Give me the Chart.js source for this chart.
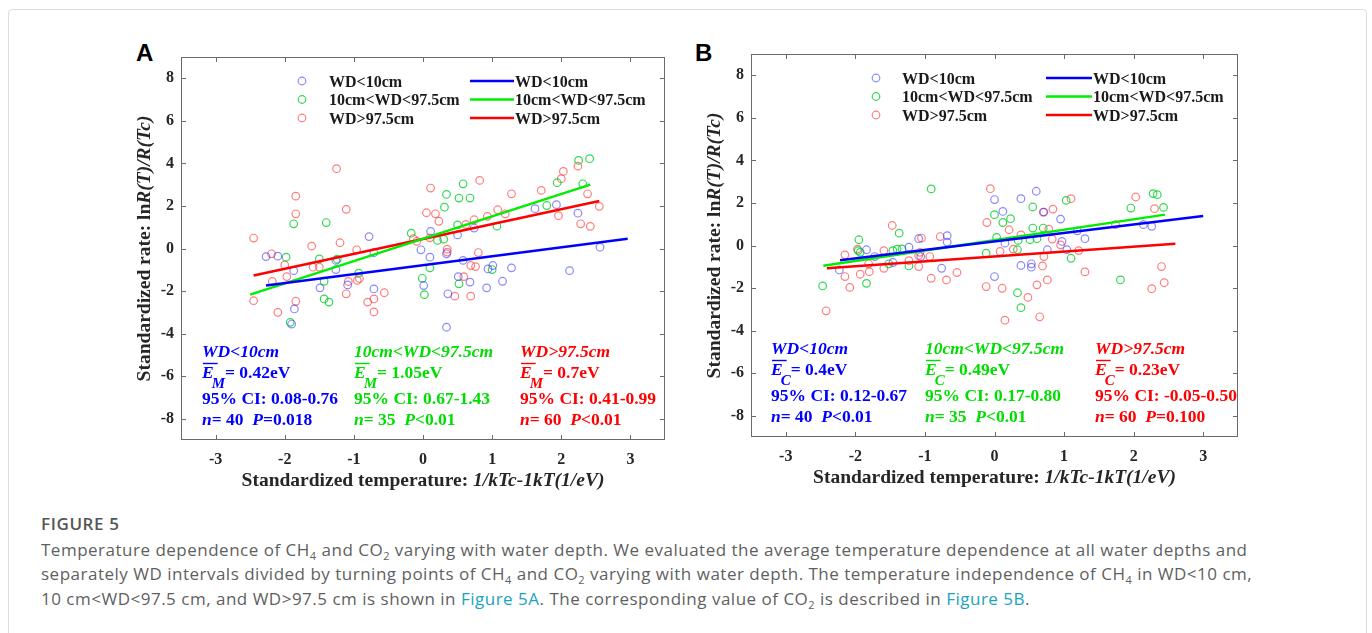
<!DOCTYPE html>
<html>
<head>
<meta charset="utf-8">
<script src="https://cdn.jsdelivr.net/npm/chart.js@4.4.0/dist/chart.umd.min.js"></script>
<style>
  body { margin: 0; background: #fff; width: 1372px; height: 633px; overflow: hidden; position: relative; font-family: "Open Sans", sans-serif; }
  .frame { position: absolute; left: 8px; top: 9px; width: 1357px; height: 700px; border: 1px solid #dcdcdc; border-radius: 4px; }
  .panel { position: absolute; }
  .tag { position: absolute; font: bold 24px "Liberation Sans", Arial, sans-serif; color: #000; }
  .caption { position: absolute; left: 41px; top: 512px; color: #5f5f5f; font-size: 17px; letter-spacing: 0.5px; line-height: 24.5px; white-space: nowrap; }
  .caption .fig { font-size: 17px; font-weight: 600; letter-spacing: 0.6px; color: #555; margin-bottom: 1px; }
  .caption a { color: #1aa3bd; text-decoration: none; }
  .caption sub { font-size: 11px; line-height: 0; }
</style>
</head>
<body>
<div class="frame"></div>
<div class="tag" style="left:136px; top:39px;">A</div>
<div class="tag" style="left:695px; top:39px;">B</div>
<div class="panel" style="left:128px; top:40px;"><canvas id="chartA" width="545" height="460"></canvas></div>
<div class="panel" style="left:698px; top:37px;"><canvas id="chartB" width="550" height="460"></canvas></div>
<div class="caption">
  <div class="fig">FIGURE 5</div>
  Temperature dependence of CH<sub>4</sub> and CO<sub>2</sub> varying with water depth. We evaluated the average temperature dependence at all water depths and<br>
  separately WD intervals divided by turning points of CH<sub>4</sub> and CO<sub>2</sub> varying with water depth. The temperature independence of CH<sub>4</sub> in WD&lt;10 cm,<br>
  10 cm&lt;WD&lt;97.5 cm, and WD&gt;97.5 cm is shown in <a>Figure 5A</a>. The corresponding value of CO<sub>2</sub> is described in <a>Figure 5B</a>.
</div>
<script>
const xTicks = [-3, -2, -1, 0, 1, 2, 3];
const yTicks = [-8, -6, -4, -2, 0, 2, 4, 6, 8];
const groups = ['WD<10cm', '10cm<WD<97.5cm', 'WD>97.5cm'];

// A - CH4
const aBlue = [[-2.27,-0.38],[-2.10,-0.36],[-1.87,-1.04],[-1.86,-2.84],[-1.90,-3.55],[-0.78,0.56],[-0.71,-0.20],
  [-1.26,-0.56],[-1.26,-0.99],[-1.49,-1.85],[-1.09,-1.71],[-0.71,-1.90],[-0.03,-0.06],[0.11,0.80],[0.10,-0.41],
  [0.01,-1.74],[0.50,0.64],[0.74,0.96],[1.62,1.87],[1.93,2.06],[2.24,1.66],[2.56,0.06],[0.34,-0.25],[0.58,-0.56],
  [0.94,-0.96],[1.01,-0.80],[1.28,-0.91],[2.12,-1.04],[0.51,-1.32],[0.68,-1.58],[1.15,-1.54],[0.92,-1.85],
  [0.36,-2.13],[0.34,-3.70]];
const aGreen = [[-1.87,1.16],[-1.40,1.22],[-1.98,-0.41],[-1.50,-0.49],[-1.43,-1.54],[-1.43,-2.37],[-1.36,-2.52],
  [-0.93,-1.16],[-1.92,-3.47],[-0.17,0.72],[-0.01,-1.40],[0.02,-2.17],[0.10,-0.91],[2.25,4.14],[2.41,4.22],
  [1.94,3.09],[2.31,3.04],[0.58,3.04],[0.34,2.54],[0.52,2.37],[0.68,2.37],[0.31,1.94],[1.79,2.02],[0.50,1.11],
  [1.07,1.05],[0.21,0.38],[0.30,0.44],[1.00,-0.99],[0.52,-1.66],[-1.24,-0.50]];
const aRed = [[-1.25,3.75],[-1.84,2.46],[-1.84,1.63],[-1.11,1.84],[-2.45,0.49],[-1.61,0.11],[-1.20,0.27],
  [-0.96,-0.06],[-2.19,-0.25],[-2.00,-0.77],[-1.97,-1.32],[-1.59,-0.88],[-1.50,-0.88],[-2.18,-1.55],[-2.45,-2.45],
  [-1.84,-2.48],[-2.10,-3.00],[-1.08,-1.55],[-0.95,-1.50],[-0.92,-1.41],[-1.11,-2.13],[-0.80,-2.52],[-0.71,-2.37],
  [-0.56,-2.08],[-0.71,-2.98],[0.05,1.68],[0.11,2.84],[-0.14,0.46],[-0.09,0.34],[0.18,1.63],[0.23,1.28],
  [0.82,3.20],[1.28,2.57],[1.71,2.73],[2.03,3.62],[2.00,3.28],[2.24,3.87],[2.38,2.57],[2.55,1.98],[1.96,1.54],
  [2.28,1.16],[2.42,1.04],[1.08,1.82],[1.19,1.63],[0.93,1.51],[0.74,1.35],[0.62,1.13],[0.10,0.50],[0.35,-0.03],
  [0.35,-0.17],[0.80,-0.19],[0.69,-0.80],[0.76,-0.85],[0.59,-1.32],[0.46,-2.24],[0.69,-2.24]];
const aSlope = [0.42, 1.05, 0.70];
const aIntercept = [-0.79, 0.46, 0.445];
const aFitFrom = [-2.27, -2.50, -2.45];
const aFitTo = [2.96, 2.42, 2.55];
const aE = ['0.42eV', '1.05eV', '0.7eV'];
const aCI = ['0.08-0.76', '0.67-1.43', '0.41-0.99'];
const aN = ['40', '35', '60'];
const aP = ['=0.018', '<0.01', '<0.01'];

// B - CO2
const bBlue = [[-1.84,-0.20],[-1.72,-0.52],[-2.23,-1.15],[-1.23,-0.08],[-1.09,0.32],[-0.68,0.46],[-0.68,0.16],
  [-1.06,-0.52],[-1.46,-0.80],[-0.76,-1.07],[0.00,2.16],[0.00,-1.46],[0.60,2.55],[0.38,2.20],[0.12,1.60],
  [0.71,1.57],[0.95,1.24],[0.15,0.11],[1.19,0.69],[1.30,0.32],[0.76,-0.20],[0.97,0.19],[1.04,-0.20],
  [0.38,-0.94],[0.53,-0.86],[0.53,-1.02],[2.14,0.98],[2.26,0.90]];
const bGreen = [[-0.91,2.66],[-1.95,0.27],[-1.37,0.58],[-2.47,-1.90],[-1.84,-1.78],[-1.96,-0.24],[-1.52,-0.86],
  [-1.46,-0.24],[-1.40,-0.17],[-1.33,-0.16],[-1.23,-0.96],[0.00,1.45],[-0.12,-0.36],[0.03,0.38],[0.55,1.81],
  [1.03,2.12],[0.12,1.08],[0.23,1.26],[0.55,0.82],[0.70,0.82],[0.34,0.24],[0.51,0.27],[0.61,0.32],[0.33,-0.20],
  [1.10,-0.60],[1.96,1.76],[2.28,2.44],[2.34,2.39],[2.43,1.79],[1.81,-1.62],[0.33,-2.22],[0.38,-2.92],[-1.93,-0.32]];
const bRed = [[-1.47,0.94],[-2.15,-0.44],[-1.97,-0.17],[-1.81,-0.86],[-1.80,-1.23],[-1.93,-1.35],[-2.15,-1.46],
  [-2.08,-1.97],[-2.42,-3.07],[-1.59,-0.24],[-1.59,-1.07],[-1.23,-0.71],[-1.09,-0.47],[-1.09,-0.99],[-1.05,0.35],
  [-0.93,-0.52],[-0.78,0.42],[-0.91,-1.54],[-0.69,-1.62],[-0.54,-1.27],[-0.06,2.67],[-0.11,1.08],[-0.12,-1.93],
  [1.10,2.20],[0.84,1.71],[0.70,1.57],[0.21,0.74],[0.38,0.50],[0.78,0.77],[0.83,0.30],[0.95,0.03],[1.21,-0.24],
  [0.08,-0.28],[0.27,-0.17],[0.71,-0.52],[0.69,-0.96],[1.30,-1.24],[0.76,-1.62],[0.61,-1.85],[0.11,-2.01],
  [0.48,-2.44],[0.15,-3.51],[0.65,-3.35],[1.74,0.98],[2.03,2.28],[2.30,1.73],[2.40,-0.99],[2.44,-1.75],
  [2.26,-2.03],[-1.07,-0.32]];
const bSlope = [0.40, 0.49, 0.23];
const bIntercept = [0.19, 0.25, -0.52];
const bFitFrom = [-2.22, -2.46, -2.41];
const bFitTo = [3.00, 2.45, 2.60];
const bE = ['0.4eV', '0.49eV', '0.23eV'];
const bCI = ['0.12-0.67', '0.17-0.80', '-0.05-0.50'];
const bN = ['40', '35', '60'];
const bP = ['<0.01', '<0.01', '=0.100'];

const lineColors = ['#0000ff', '#00ee00', '#ff0000'];
const textColors = ['#0000ff', '#00dd00', '#ff0000'];
const pointColors = ['rgba(40,40,255,0.55)', 'rgba(0,205,40,0.8)', 'rgba(255,40,40,0.6)'];
const SERIF = '"Liberation Serif", "Times New Roman", serif';

// escreve pedaços de texto com fontes diferentes na mesma linha
function runs(ctx, x, y, parts) {
  for (const [t, f, dy] of parts) {
    ctx.font = f;
    ctx.fillText(t, x, y + (dy || 0));
    x += ctx.measureText(t).width;
  }
  return x;
}
function widthOf(ctx, parts) {
  let w = 0;
  for (const [t, f] of parts) { ctx.font = f; w += ctx.measureText(t).width; }
  return w;
}

const figurePlugin = {
  id: 'figure',
  afterDraw(chart, args, opts) {
    const ctx = chart.ctx;
    const a = chart.chartArea;
    const sx = chart.scales.x, sy = chart.scales.y;
    ctx.save();
    // moldura e ticks para dentro
    ctx.strokeStyle = '#6a6a6a';
    ctx.lineWidth = 1;
    ctx.strokeRect(a.left + 0.5, a.top + 0.5, a.right - a.left - 1, a.bottom - a.top - 1);
    ctx.beginPath();
    xTicks.forEach(v => {
      const px = Math.round(sx.getPixelForValue(v)) + 0.5;
      ctx.moveTo(px, a.bottom); ctx.lineTo(px, a.bottom - 5);
      ctx.moveTo(px, a.top); ctx.lineTo(px, a.top + 5);
    });
    yTicks.forEach(v => {
      const py = Math.round(sy.getPixelForValue(v)) + 0.5;
      ctx.moveTo(a.left, py); ctx.lineTo(a.left + 5, py);
      ctx.moveTo(a.right, py); ctx.lineTo(a.right - 5, py);
    });
    ctx.stroke();

    // títulos dos eixos
    const tB = 'bold 19.5px ' + SERIF, tBI = 'italic bold 19.5px ' + SERIF;
    ctx.fillStyle = '#262626';
    ctx.textBaseline = 'middle';
    const xt = [['Standardized temperature: ', tB], ['1/kTc-1kT(1/eV)', tBI]];
    runs(ctx, (a.left + a.right) / 2 - widthOf(ctx, xt) / 2, a.bottom + 41, xt);
    const yt = [['Standardized rate: ln', tB], ['R(T)/R(Tc)', tBI]];
    ctx.translate(a.left - 36, (a.top + a.bottom) / 2);
    ctx.rotate(-Math.PI / 2);
    runs(ctx, -widthOf(ctx, yt) / 2, 0, yt);
    ctx.setTransform(1, 0, 0, 1, 0, 0);

    // legenda dentro do gráfico
    const lg = opts.legend;
    const lf = 'bold 16px ' + SERIF;
    ctx.font = lf;
    ctx.textBaseline = 'alphabetic';
    groups.forEach((g, i) => {
      const cy = a.top + 24 + i * 18.5;
      ctx.strokeStyle = pointColors[i];
      ctx.lineWidth = 1.2;
      ctx.beginPath(); ctx.arc(a.left + lg[0], cy, 3.8, 0, Math.PI * 2); ctx.stroke();
      ctx.fillStyle = '#1a1a1a';
      ctx.fillText(g, a.left + lg[1], cy + 5.5);
      ctx.strokeStyle = lineColors[i];
      ctx.lineWidth = 2.5;
      ctx.beginPath(); ctx.moveTo(a.left + lg[2], cy); ctx.lineTo(a.left + lg[3], cy); ctx.stroke();
      ctx.fillText(g, a.left + lg[3] + 1, cy + 5.5);
    });

    // estatísticas de cada grupo
    const sB = 'bold 17.5px ' + SERIF, sBI = 'italic bold 17.5px ' + SERIF, sSub = 'italic bold 15px ' + SERIF;
    groups.forEach((g, i) => {
      const x = a.left + opts.cols[i];
      ctx.fillStyle = textColors[i];
      ctx.strokeStyle = textColors[i];
      runs(ctx, x, a.top + 300, [[g, sBI]]);
      const y2 = a.top + 321;
      ctx.font = sBI;
      const ew = ctx.measureText('E').width;
      ctx.fillText('E', x, y2);
      ctx.lineWidth = 1.4;
      ctx.beginPath(); ctx.moveTo(x + 1, y2 - 14.5); ctx.lineTo(x + ew + 4, y2 - 14.5); ctx.stroke();
      ctx.font = sSub;
      ctx.fillText(opts.sub, x + ew - 2, y2 + 10);
      const xe = x + ew - 2 + ctx.measureText(opts.sub).width;
      runs(ctx, xe, y2, [['= ' + opts.e[i], sB]]);
      runs(ctx, x, a.top + 347, [['95% CI: ' + opts.ci[i], sB]]);
      runs(ctx, x, a.top + 368, [['n', sBI], ['= ' + opts.n[i] + '  ', sB], ['P', sBI], [opts.p[i], sB]]);
    });
    ctx.restore();
  }
};

function makeChart(id, pts, slope, icpt, from, to, deco, padRight) {
  const datasets = [];
  for (let i = 0; i < 3; i++) {
    datasets.push({
      type: 'line',
      data: [from[i], to[i]].map(x => ({ x: x, y: icpt[i] + slope[i] * x })),
      borderColor: lineColors[i],
      borderWidth: 2.5,
      pointRadius: 0,
      order: 0
    });
  }
  for (let i = 0; i < 3; i++) {
    datasets.push({
      type: 'scatter',
      data: pts[i].map(p => ({ x: p[0], y: p[1] })),
      pointStyle: 'circle',
      pointRadius: 3.8,
      pointBorderWidth: 1.2,
      borderColor: pointColors[i],
      backgroundColor: 'rgba(0,0,0,0)',
      order: 1
    });
  }
  const tickFont = { family: SERIF, size: 16, weight: 'bold' };
  return new Chart(document.getElementById(id).getContext('2d'), {
    data: { datasets: datasets },
    options: {
      responsive: false,
      animation: false,
      layout: { padding: { top: 17, right: padRight, left: 0, bottom: 0 } },
      scales: {
        x: {
          type: 'linear', min: -3.5, max: 3.5,
          afterBuildTicks: s => { s.ticks = xTicks.map(v => ({ value: v })); },
          afterFit: s => { s.height = 60; },
          grid: { display: false, drawTicks: false },
          border: { display: false },
          ticks: { color: '#262626', font: tickFont, padding: 10, callback: v => String(v) }
        },
        y: {
          type: 'linear', min: -9, max: 9,
          afterBuildTicks: s => { s.ticks = yTicks.map(v => ({ value: v })); },
          afterFit: s => { s.width = 53; },
          grid: { display: false, drawTicks: false },
          border: { display: false },
          ticks: { color: '#262626', font: tickFont, padding: 7, callback: v => String(v) }
        }
      },
      plugins: {
        legend: { display: false },
        tooltip: { enabled: false },
        figure: deco
      }
    },
    plugins: [figurePlugin]
  });
}

makeChart('chartA', [aBlue, aGreen, aRed], aSlope, aIntercept, aFitFrom, aFitTo,
  { legend: [121, 148, 289, 333], cols: [21, 173, 339], sub: 'M', e: aE, ci: aCI, n: aN, p: aP }, 8);
makeChart('chartB', [bBlue, bGreen, bRed], bSlope, bIntercept, bFitFrom, bFitTo,
  { legend: [125, 151, 295, 341], cols: [20, 174, 344], sub: 'C', e: bE, ci: bCI, n: bN, p: bP }, 10);
</script>
</body>
</html>
